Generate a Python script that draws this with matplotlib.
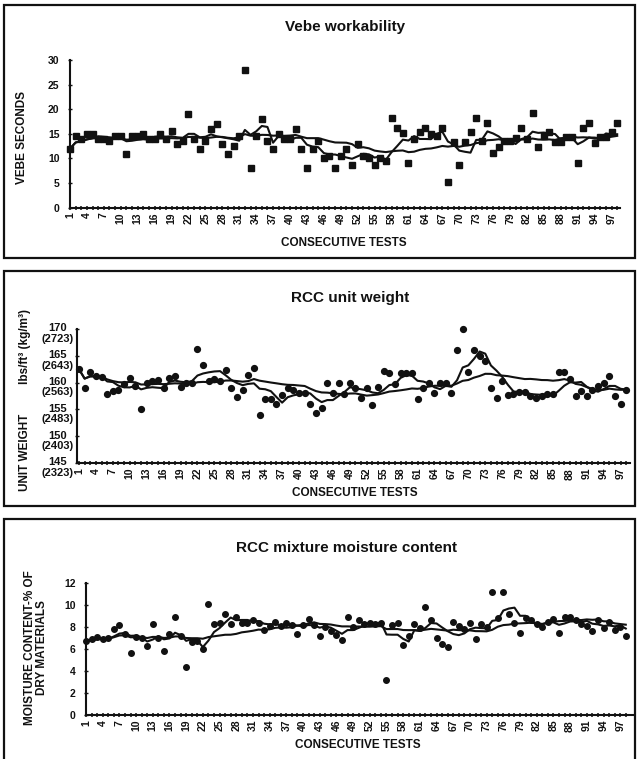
import matplotlib
matplotlib.use('Agg')
import matplotlib.pyplot as plt
import matplotlib.transforms as mtransforms
from matplotlib.patches import Rectangle
import numpy as np
import pandas as pd

plt.rcParams['font.family'] = ['Liberation Sans', 'DejaVu Sans']

# ---------------- data ----------------
tests = list(range(1, 99))
xtick_values = list(range(1, 98, 3))
xtick_labels = [str(v) for v in xtick_values]

vebe_seconds = [
    12, 14.5, 14, 15, 15, 14, 14, 13.5, 14.5, 14.5,
    11, 14.5, 14.5, 15, 14, 14, 15, 14, 15.5, 13,
    13.5, 19, 14, 12, 13.5, 16, 17, 13, 11, 12.5,
    14.5, 28, 8, 14.5, 18, 13.5, 12, 15, 14, 14,
    16, 12, 8, 12, 13.5, 10, 10.5, 8, 10.5, 12,
    8.7, 13, 10.5, 10, 8.7, 10, 9.5, 18.2, 16.2, 15.2,
    9.1, 14, 15.3, 16.2, 15, 14.5, 16.2, 5.3, 13.3, 8.7,
    13.3, 15.3, 18.2, 13.5, 17.2, 11.2, 12.3, 13.5, 13.5, 14.2,
    16.2, 14, 19.3, 12.3, 14.5, 15.4, 13.3, 13.3, 14.4, 14.4,
    9.1, 16.2, 17.2, 13.2, 14.4, 14.4, 15.4, 17.2,
]

unit_weight = [
    162.5, 159.0, 162.0, 161.2, 161.0, 157.9, 158.4, 158.6, 159.7, 160.9,
    159.4, 155.1, 160.0, 160.3, 160.4, 159.0, 160.9, 161.3, 159.2, 159.9,
    160.0, 166.2, 163.2, 160.3, 160.7, 160.3, 162.3, 158.9, 157.4, 158.7,
    161.5, 162.8, 153.9, 156.9, 156.9, 156.0, 157.6, 159.0, 158.6, 158.0,
    158.1, 156.1, 154.3, 155.3, 159.9, 158.1, 159.9, 157.8, 159.9, 159.0,
    157.2, 158.9, 155.8, 159.2, 162.1, 161.7, 159.7, 161.7, 161.7, 161.7,
    156.9, 159.0, 159.9, 158.1, 160.0, 160.0, 158.1, 166.0, 170.0, 162.0,
    166.0, 165.0, 164.0, 159.0, 157.1, 160.3, 157.6, 157.8, 158.2, 158.2,
    157.5, 157.2, 157.5, 157.8, 157.8, 162.0, 162.0, 160.7, 157.5, 158.4,
    157.5, 158.7, 159.4, 160.0, 161.3, 157.5, 156.0, 158.7,
]
weight_ticks = [145, 150, 155, 160, 165, 170]
weight_tick_labels = ['145\n(2323)', '150\n(2403)', '155\n(2483)',
                      '160\n(2563)', '165\n(2643)', '170\n(2723)']

moisture = [
    6.7, 6.9, 7.1, 6.9, 7.0, 7.8, 8.2, 7.4, 5.6, 7.1,
    7.0, 6.3, 8.3, 7.0, 5.8, 7.4, 8.9, 7.2, 4.4, 6.6,
    6.7, 6.0, 10.1, 8.3, 8.4, 9.2, 8.3, 8.9, 8.4, 8.4,
    8.6, 8.4, 7.7, 8.1, 8.5, 8.1, 8.4, 8.2, 7.4, 8.2,
    8.7, 8.2, 7.2, 8.0, 7.6, 7.3, 6.8, 8.9, 8.0, 8.6,
    8.3, 8.4, 8.3, 8.4, 3.2, 8.2, 8.4, 6.4, 7.2, 8.3,
    7.9, 9.8, 8.6, 7.0, 6.5, 6.2, 8.5, 8.1, 7.8, 8.4,
    6.9, 8.3, 8.0, 11.2, 8.8, 11.2, 9.2, 8.4, 7.5, 8.8,
    8.6, 8.3, 8.0, 8.5, 8.7, 7.5, 8.9, 8.9, 8.6, 8.3,
    8.1, 7.6, 8.6, 7.9, 8.5, 7.7, 8.0, 7.2,
]

# ---------------- figure ----------------
W, H = 638, 759
fig = plt.figure(figsize=(W / 100, H / 100), dpi=100)
INK = '#111111'


def fx(px):
    return px / W


def fy(py):
    return 1 - py / H


def add_ax(l, r, t, b):
    return fig.add_axes([fx(l), fy(b), (r - l) / W, (b - t) / H])


def border(top, bottom, left=4, right=635):
    fig.add_artist(Rectangle((fx(left), fy(bottom)), (right - left) / W,
                             (bottom - top) / H, transform=fig.transFigure,
                             fill=False, lw=1.6, ec=INK))


def draw_panel(ax, values, marker, ms, xlim, ylim, yticks, ylabels,
               ysize, ypad):
    s = pd.Series(values, index=tests)
    fast = s.rolling(5, min_periods=1).mean()
    slow = s.rolling(20, min_periods=1).mean()
    ax.plot(tests, slow.values, color=INK, lw=1.5, solid_joinstyle='round')
    ax.plot(tests, fast.values, color=INK, lw=1.5, solid_joinstyle='round')
    ax.plot(tests, values, ls='none', marker=marker, ms=ms, color=INK,
            mec=INK, clip_on=False)
    ax.set_xlim(*xlim)
    ax.set_ylim(*ylim)
    for sp in ['top', 'right']:
        ax.spines[sp].set_visible(False)
    for sp in ['left', 'bottom']:
        ax.spines[sp].set_linewidth(1.5)
        ax.spines[sp].set_color(INK)
    ax.set_xticks(xtick_values)
    ax.set_xticklabels(xtick_labels, rotation=90, fontsize=7.5,
                       fontweight='bold')
    ax.set_xticks(tests, minor=True)
    ax.tick_params(axis='x', which='both', direction='inout', length=3,
                   width=1.1, pad=2, colors=INK)
    ax.set_yticks(yticks)
    ax.set_yticklabels(ylabels, fontsize=ysize, fontweight='bold')
    ax.tick_params(axis='y', direction='inout', length=3, width=1.0,
                   pad=ypad, colors=INK)
    ax.patch.set_alpha(0)


# Panel 1
border(5, 258)
ax1 = add_ax(70, 620, 60, 207.7)
draw_panel(ax1, vebe_seconds, 's', 4.6, (1, 98.5), (0, 30),
           [0, 5, 10, 15, 20, 25, 30],
           ['0', '5', '10', '15', '20', '25', '30'], 7.5, 6)
fig.text(fx(345), fy(27), 'Vebe workability', ha='center', va='center',
         fontsize=11, fontweight='bold', color=INK)
fig.text(fx(344), fy(243), 'CONSECUTIVE TESTS', ha='center', va='center',
         fontsize=8.5, fontweight='bold', color=INK)
fig.text(fx(22), fy(137), 'VEBE SECONDS', ha='center', va='center',
         rotation=90, fontsize=8.5, fontweight='bold', color=INK)

# Panel 2
border(271, 506)
ax2 = add_ax(77, 630, 329, 463)
draw_panel(ax2, unit_weight, 'o', 4.2, (0.65, 98.65), (145, 170),
           weight_ticks, weight_tick_labels, 8, 1)
offset = mtransforms.ScaledTranslation(0, 4 / 72, fig.dpi_scale_trans)
for lbl in ax2.get_yticklabels():
    lbl.set_va('top')
    lbl.set_multialignment('center')
    lbl.set_linespacing(1.05)
    lbl.set_transform(lbl.get_transform() + offset)
fig.text(fx(350), fy(298), 'RCC unit weight', ha='center', va='center',
         fontsize=11, fontweight='bold', color=INK)
fig.text(fx(355), fy(493), 'CONSECUTIVE TESTS', ha='center', va='center',
         fontsize=8.5, fontweight='bold', color=INK)
fig.text(fx(25), fy(452), 'UNIT WEIGHT', ha='center', va='center',
         rotation=90, fontsize=8.5, fontweight='bold', color=INK)
fig.text(fx(25), fy(347), 'lbs/ft³ (kg/m³)', ha='center', va='center',
         rotation=90, fontsize=8.5, fontweight='bold', color=INK)

# Panel 3
border(519, 790)
ax3 = add_ax(86, 633, 583, 715)
draw_panel(ax3, moisture, 'o', 4.0, (1, 99.3), (0, 12),
           [0, 2, 4, 6, 8, 10, 12],
           ['0', '2', '4', '6', '8', '10', '12'], 7.5, 6)
fig.text(fx(347), fy(548), 'RCC mixture moisture content', ha='center',
         va='center', fontsize=11, fontweight='bold', color=INK)
fig.text(fx(358), fy(745), 'CONSECUTIVE TESTS', ha='center', va='center',
         fontsize=8.5, fontweight='bold', color=INK)
fig.text(fx(36), fy(648), 'MOISTURE CONTENT-% OF\nDRY MATERIALS',
         ha='center', va='center', rotation=90, fontsize=8.5,
         fontweight='bold', linespacing=1.0, multialignment='center',
         color=INK)

fig.savefig('out.png', dpi=100, facecolor='white')
